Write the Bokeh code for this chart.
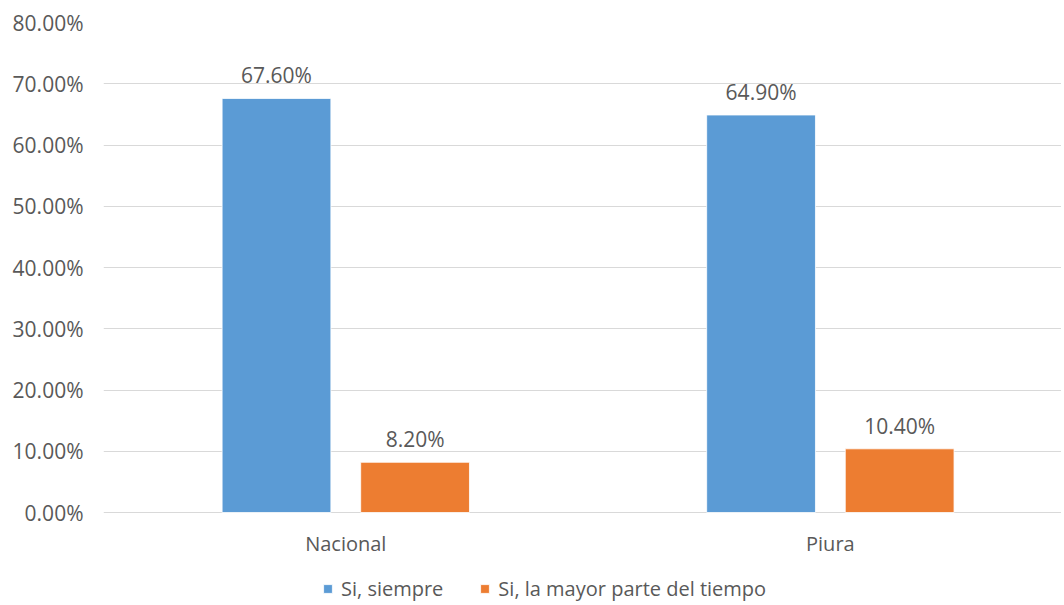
from bokeh.plotting import figure
from bokeh.models import ColumnDataSource, FixedTicker, PrintfTickFormatter, Legend, LegendItem, Range1d
from bokeh.transform import dodge
from bokeh.core.properties import value
from bokeh.embed import file_html
from bokeh.resources import INLINE

categories = ["Nacional", "Piura"]
series_names = ["Si, siempre", "Si, la mayor parte del tiempo"]
siempre = [67.6, 64.9]
mayor_parte = [8.2, 10.4]
y_ticks = [0, 10, 20, 30, 40, 50, 60, 70, 80]

colors = ["#5B9BD5", "#ED7D31"]
FONT = "Open Sans"
TXT = "#595959"

# layout: value area 490px tall for 0..80, frame extended below to hold labels + legend
PLOT_H = 490
FRAME_H = 581
y_max = 80
y_min = -(FRAME_H - PLOT_H) * y_max / PLOT_H

xpos = [i + 0.5 for i in range(len(categories))]
src = ColumnDataSource(dict(
    x=xpos,
    cat=categories,
    s1=siempre,
    s2=mayor_parte,
    l1=[f"{v:.2f}%" for v in siempre],
    l2=[f"{v:.2f}%" for v in mayor_parte],
))

p = figure(x_range=Range1d(0, 1.977), y_range=Range1d(y_min, y_max),
           frame_width=958, frame_height=FRAME_H, output_backend="svg", toolbar_location=None,
           min_border_left=103, min_border_right=0, min_border_top=22, min_border_bottom=0)
p.outline_line_color = None

bw = 0.2245
off = 0.143
r1 = p.vbar(x=dodge("x", -off), top="s1", width=bw, source=src,
            fill_color=colors[0], line_color="white", line_width=0.8)
r2 = p.vbar(x=dodge("x", off), top="s2", width=bw, source=src,
            fill_color=colors[1], line_color="white", line_width=0.8)

p.text(x=dodge("x", -off), y="s1", text="l1", source=src,
       text_align="center", text_baseline="bottom", y_offset=-9,
       text_font=value(FONT), text_font_size="21px", text_color=TXT)
p.text(x=dodge("x", off), y="s2", text="l2", source=src,
       text_align="center", text_baseline="bottom", y_offset=-9,
       text_font=value(FONT), text_font_size="21px", text_color=TXT)

# category labels under the zero line
p.text(x="x", y=0, text="cat", source=src,
       text_align="center", text_baseline="middle", y_offset=31,
       text_font=value(FONT), text_font_size="20px", text_color=TXT)

p.yaxis.ticker = FixedTicker(ticks=y_ticks)
p.yaxis.formatter = PrintfTickFormatter(format="%.2f%%")
p.yaxis.axis_line_color = None
p.yaxis.major_tick_line_color = None
p.yaxis.minor_tick_line_color = None
p.yaxis.major_label_standoff = 14
p.yaxis.major_label_text_font = FONT
p.yaxis.major_label_text_font_size = "21px"
p.yaxis.major_label_text_color = TXT

p.xaxis.visible = False

p.xgrid.grid_line_color = None
p.ygrid.grid_line_color = "#D9D9D9"
p.ygrid.grid_line_width = 1.2

legend = Legend(items=[LegendItem(label=series_names[0], renderers=[r1]),
                       LegendItem(label=series_names[1], renderers=[r2])],
                orientation="horizontal", location=(219, 1),
                label_text_font=FONT, label_text_font_size="20px", label_text_color=TXT,
                glyph_width=11, glyph_height=11, label_standoff=8, spacing=36,
                padding=0, margin=0,
                border_line_color=None, background_fill_alpha=0)
p.add_layout(legend, "center")

open("out.html", "w").write(file_html(p, INLINE))
